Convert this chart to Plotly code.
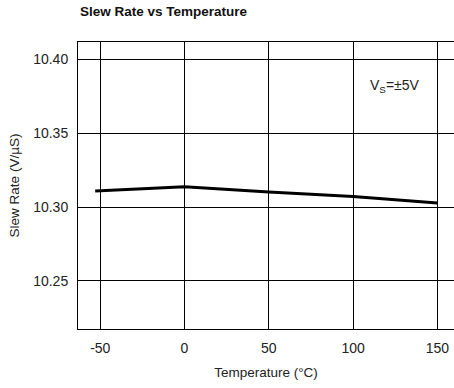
import plotly.graph_objects as go

temperature = [-53, 0, 50, 100, 150]
slew_rate = [10.3108, 10.3138, 10.3102, 10.3072, 10.3027]
x_ticks = [-50, 0, 50, 100, 150]
x_tick_labels = ["-50", "0", "50", "100", "150"]
y_ticks = [10.25, 10.30, 10.35, 10.40]
y_tick_labels = ["10.25", "10.30", "10.35", "10.40"]

FONT = "Liberation Sans, Arial, sans-serif"

fig = go.Figure()
fig.add_trace(go.Scatter(x=temperature, y=slew_rate, mode="lines",
                         line=dict(color="black", width=3), showlegend=False))

fig.update_layout(
    width=454, height=388,
    margin=dict(l=78, r=0, t=42, b=59),
    paper_bgcolor="white", plot_bgcolor="white",
    font=dict(family=FONT, size=14, color="#222"),
    title=dict(text="<b>Slew Rate vs Temperature</b>", x=80 / 454, xanchor="left",
               y=1 - 11 / 388, yanchor="middle", font=dict(size=13.5, color="#111")),
    annotations=[dict(text="V<sub>S</sub>=±5V", x=109, y=10.382, xref="x", yref="y",
                      showarrow=False, xanchor="left", yanchor="middle",
                      font=dict(size=14, color="#222"))],
)

fig.update_xaxes(range=[-63.2, 159.9], tickvals=x_ticks, ticktext=x_tick_labels,
                 showgrid=True, gridcolor="black",
                 gridwidth=1, showline=True, linecolor="black", linewidth=1, mirror=True,
                 zeroline=False, ticks="", ticklabelstandoff=6,
                 title=dict(text="Temperature (°C)", font=dict(size=13.5), standoff=12))
fig.update_yaxes(range=[10.2175, 10.4117], tickvals=y_ticks, ticktext=y_tick_labels,
                 showgrid=True, gridcolor="black", gridwidth=1, showline=True,
                 linecolor="black", linewidth=1, mirror=False, zeroline=False, ticks="",
                 ticklabelstandoff=6,
                 title=dict(text="Slew Rate (V/µS)", font=dict(size=13.5), standoff=10))

fig.write_html("out.html")
